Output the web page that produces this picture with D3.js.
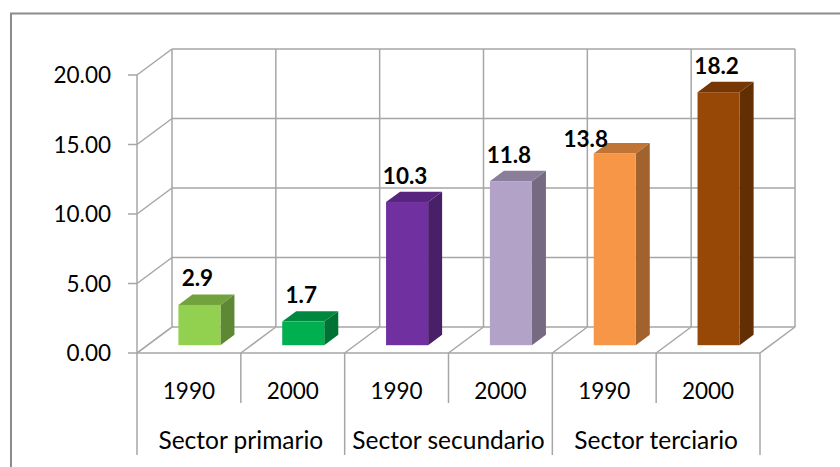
<!DOCTYPE html>
<html>
<head>
<meta charset="utf-8">
<script src="https://cdn.jsdelivr.net/npm/d3@7"></script>
<style>
  html, body { margin: 0; padding: 0; background: #fff; }
  svg { display: block; font-family: Lato, "Open Sans", sans-serif; }
  .grid { stroke: #a6a6a6; stroke-width: 1.5; fill: none; }
  .tick-label { font-size: 22.5px; fill: #000; }
  .sector-label { font-size: 24.5px; fill: #000; }
  .value-label { font-size: 22.5px; font-weight: bold; fill: #000; }
</style>
</head>
<body>
<div class="chart"></div>
<script>
// -------------------------------------------------------------------------
// Data
const sectors = ['Sector primario', 'Sector secundario', 'Sector terciario'];
const years = ['1990', '2000'];
const values = [2.9, 1.7, 10.3, 11.8, 13.8, 18.2];
const barColors = ['#92D050', '#00B050', '#7030A0', '#B3A2C7', '#F79646', '#974706'];
const yTicks = [0, 5, 10, 15, 20];

// -------------------------------------------------------------------------
// Layout
const width = 840;
const height = 467;
const floorY = 353;
const topY = 75;
const left = 137;
const right = 760;
// depth of the 3d box
const depthX = 35;
const depthY = -26;
// bar sits between these fractions of the depth
const barFront = 0.3;
const barBack = 0.7;

const categories = [];
sectors.forEach(sector => {
  years.forEach(year => categories.push({ sector, year }));
});

const x = d3.scaleBand()
  .domain(d3.range(categories.length))
  .range([left, right])
  .padding(0);

const y = d3.scaleLinear().domain([0, 20]).range([floorY, topY]);

const svg = d3.select('.chart')
  .append('svg')
  .attr('width', width)
  .attr('height', height);

// outer chart frame (cut by the window)
svg.append('rect')
  .attr('x', 11)
  .attr('y', 13.5)
  .attr('width', width + 20)
  .attr('height', height + 20)
  .attr('fill', 'none')
  .attr('stroke', '#8c8c8c')
  .attr('stroke-width', 2);

const grid = svg.append('g').attr('id', 'grid');

// back wall horizontal gridlines + side wall diagonals + ticks
yTicks.forEach(t => {
  const yy = y(t);
  grid.append('line').attr('class', 'grid')
    .attr('x1', left + depthX).attr('x2', right + depthX)
    .attr('y1', yy + depthY).attr('y2', yy + depthY);
  grid.append('line').attr('class', 'grid')
    .attr('x1', left).attr('x2', left + depthX)
    .attr('y1', yy).attr('y2', yy + depthY);
  grid.append('line').attr('class', 'grid')
    .attr('x1', left - 9).attr('x2', left)
    .attr('y1', yy).attr('y2', yy);
  svg.append('text')
    .attr('class', 'tick-label')
    .attr('x', 111)
    .attr('y', yy + 8)
    .attr('text-anchor', 'end')
    .text(t.toFixed(2));
});

// back wall verticals and floor diagonals
d3.range(categories.length + 1).forEach(i => {
  const xx = i < categories.length ? x(i) : right;
  grid.append('line').attr('class', 'grid')
    .attr('x1', xx + depthX).attr('x2', xx + depthX)
    .attr('y1', y(20) + depthY).attr('y2', floorY + depthY);
  grid.append('line').attr('class', 'grid')
    .attr('x1', xx).attr('x2', xx + depthX)
    .attr('y1', floorY).attr('y2', floorY + depthY);
  // category dividers below the axis
  grid.append('line').attr('class', 'grid')
    .attr('x1', xx).attr('x2', xx)
    .attr('y1', floorY)
    .attr('y2', i % 2 === 0 ? 455 : 403);
});

// front edges: value axis and floor edge
grid.append('line').attr('class', 'grid')
  .attr('x1', left).attr('x2', left)
  .attr('y1', y(20)).attr('y2', floorY);
grid.append('line').attr('class', 'grid')
  .attr('x1', left).attr('x2', right)
  .attr('y1', floorY).attr('y2', floorY);

// category labels
categories.forEach((c, i) => {
  svg.append('text')
    .attr('class', 'tick-label')
    .attr('x', x(i) + x.bandwidth() / 2)
    .attr('y', 399)
    .attr('text-anchor', 'middle')
    .text(c.year);
});
sectors.forEach((s, i) => {
  svg.append('text')
    .attr('class', 'sector-label')
    .attr('x', x(i * 2) + x.bandwidth())
    .attr('y', 449)
    .attr('text-anchor', 'middle')
    .text(s);
});

// -------------------------------------------------------------------------
// Bars
const barWidth = x.bandwidth() * 0.405;
const fx = barFront * depthX;
const fy = barFront * depthY;
const dx = (barBack - barFront) * depthX;
const dy = (barBack - barFront) * depthY;

const bars = svg.append('g').attr('id', 'bars');

values.forEach((v, i) => {
  const x0 = x(i) + (x.bandwidth() - barWidth) / 2 + fx;
  const x1 = x0 + barWidth;
  const yb = floorY + fy;
  const yt = y(v) + fy;
  const base = d3.color(barColors[i]);
  const g = bars.append('g');

  // side face
  g.append('polygon')
    .attr('points', `${x1},${yb} ${x1 + dx},${yb + dy} ${x1 + dx},${yt + dy} ${x1},${yt}`)
    .attr('fill', base.darker(1.2));
  // top face
  g.append('polygon')
    .attr('points', `${x0},${yt} ${x1},${yt} ${x1 + dx},${yt + dy} ${x0 + dx},${yt + dy}`)
    .attr('fill', base.darker(0.7));
  // front face
  g.append('rect')
    .attr('x', x0).attr('y', yt)
    .attr('width', barWidth).attr('height', yb - yt)
    .attr('fill', base);

  // value label (13.8 is pushed aside as in the original)
  const nudge = i === 4 ? [-29, 12] : [-2, 0];
  svg.append('text')
    .attr('class', 'value-label')
    .attr('x', x0 + barWidth / 2 + nudge[0])
    .attr('y', yt + dy - 8 + nudge[1])
    .attr('text-anchor', 'middle')
    .text(v.toFixed(1));
});
</script>
</body>
</html>
